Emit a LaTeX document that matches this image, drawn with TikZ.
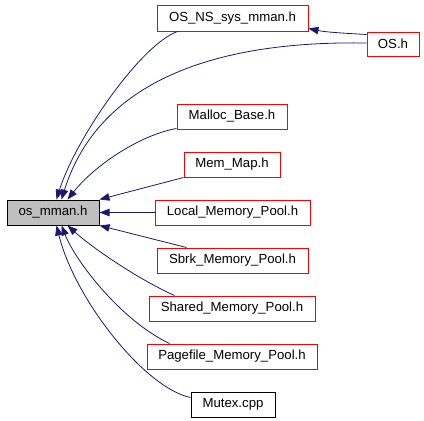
\documentclass[tikz,border=0pt]{standalone}
\usepackage{fontspec}
\setmainfont{Liberation Sans}
\usetikzlibrary{arrows.meta,calc}
\definecolor{edgeblue}{HTML}{191970}
\definecolor{nodegray}{HTML}{BFBFBF}
\tikzset{
  filebox/.style={draw=red, line width=1pt, inner sep=0pt, minimum height=25pt,
    font=\fontsize{13.2}{15}\selectfont, text=black},
  mainbox/.style={filebox, draw=black, fill=nodegray},
  blackbox/.style={filebox, draw=black},
  dep/.style={draw=edgeblue, line width=0.8pt, -{Triangle[length=10pt,width=7.5pt]}, edgeblue},
}
\begin{document}
\begin{tikzpicture}[x=1pt,y=-1pt]
\useasboundingbox (0,0) rectangle (424,421);
\node[filebox, minimum width=151pt, minimum height=26pt] (nsmman) at (232.5,18) {OS\_NS\_sys\_mman.h};
\node[filebox, minimum width=52pt, minimum height=24pt] (osh) at (393,44) {OS.h};
\node[filebox, minimum width=110pt] (malloc) at (232,116.5) {Malloc\_Base.h};
\node[filebox, minimum width=96pt] (memmap) at (232,164.5) {Mem\_Map.h};
\node[mainbox, minimum width=92pt] (osmman) at (53,212.5) {os\_mman.h};
\node[filebox, minimum width=155pt] (local) at (232.5,212.5) {Local\_Memory\_Pool.h};
\node[filebox, minimum width=151pt] (sbrk) at (232.5,260.5) {Sbrk\_Memory\_Pool.h};
\node[filebox, minimum width=166pt] (shared) at (232,308.5) {Shared\_Memory\_Pool.h};
\node[filebox, minimum width=170pt] (pagefile) at (232,356.5) {Pagefile\_Memory\_Pool.h};
\node[blackbox, minimum width=84pt] (mutex) at (233,404.5) {Mutex.cpp};

% OS.h -> OS_NS_sys_mman.h
\draw[dep] ($(osh.north west)+(0,3)$) .. controls (340,33) and (325,32) .. ($(nsmman.south east)+(0,-3)$);
% top curves
\draw[dep] ($(nsmman.south west)+(21,0)$) .. controls (140,45) and (75,140) .. ($(osmman.north west)+(50,0)$);
\draw[dep] ($(osh.west)+(0,-1)$) .. controls (180,40) and (92,102) .. ($(osmman.north west)+(55,0)$);
\draw[dep] ($(malloc.south west)+(0,-1)$) .. controls (140,135) and (95,165) .. ($(osmman.north west)+(61,0)$);
% straight ones
\draw[dep] (memmap.south west) -- (osmman.north east);
\draw[dep] (local.west) -- (osmman.east);
\draw[dep] ($(sbrk.north west)+(30,0)$) -- (osmman.south east);
% bottom curves
\draw[dep] ($(shared.north west)+(26,0)$) .. controls (140,280) and (95,250) .. ($(osmman.south west)+(61,0)$);
\draw[dep] ($(pagefile.north west)+(23,0)$) .. controls (120,320) and (75,260) .. ($(osmman.south west)+(55,0)$);
\draw[dep] ($(mutex.north west)+(0,6)$) .. controls (145,388) and (75,300) .. ($(osmman.south west)+(50,0)$);
\end{tikzpicture}
\end{document}
